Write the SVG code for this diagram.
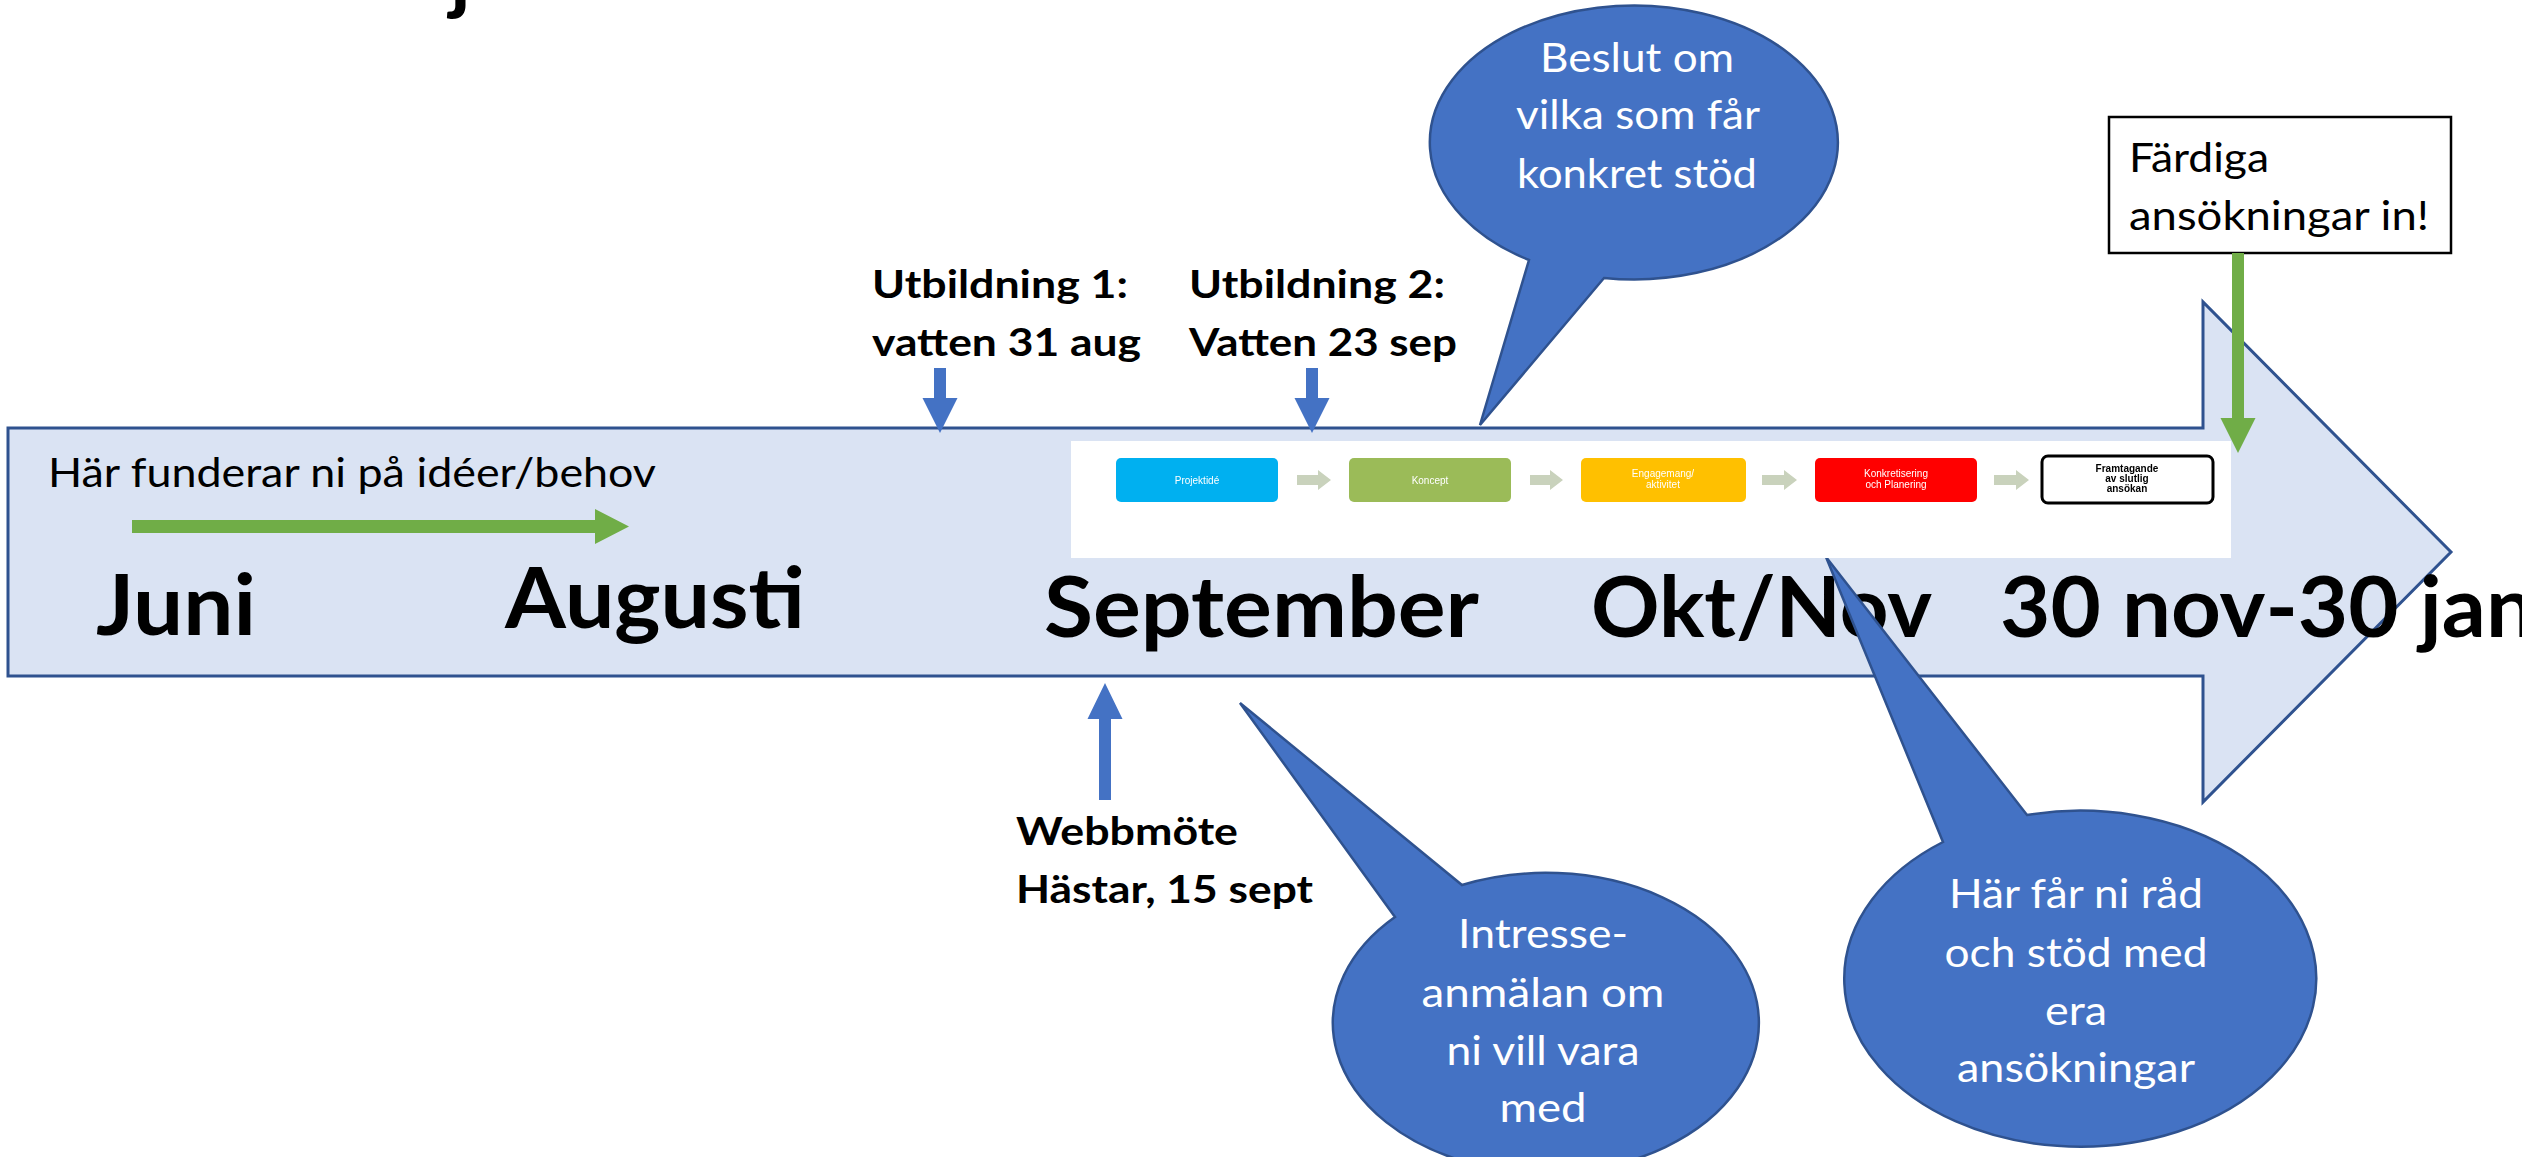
<svg xmlns="http://www.w3.org/2000/svg" width="2522" height="1157" viewBox="0 0 2522 1157">
<defs>
<style>
.bg{fill:#ffffff}
.big{fill:#DAE3F3;stroke:#2F528F;stroke-width:3;stroke-linejoin:miter}
.blue{fill:#4472C4}
.green{fill:#70AD47}
.bubble{fill:#4472C4;stroke:#2F528F;stroke-width:2.5}
.t{font-family:Lato,"Open Sans","Liberation Sans",sans-serif;fill:#000}
.reg{font-size:40px;font-weight:400}
.lbl{font-size:39px;font-weight:700}
.month{font-size:85px;font-weight:700}
.w{fill:#ffffff}
.tiny{font-family:"Liberation Sans",Arial,sans-serif;font-size:10px;fill:#ffffff}
.pa{fill:#C9D2BC}
</style>
<filter id="soft" x="-5%" y="-20%" width="110%" height="140%"><feGaussianBlur stdDeviation="0.7"/></filter>
</defs>
<rect class="bg" x="0" y="0" width="2522" height="1157"/>

<g id="title-fragment"><text class="t" x="450" y="4" font-size="82" font-weight="700">j</text></g>

<g id="timeline-arrow">
<path class="big" d="M8,428 L2203,428 L2203,302 L2451,552 L2203,802 L2203,676 L8,676 Z"/>
</g>

<g id="months">
<text class="t month" x="96" y="635" textLength="160" lengthAdjust="spacingAndGlyphs">Juni</text>
<text class="t month" x="505" y="628" textLength="300" lengthAdjust="spacingAndGlyphs">Augusti</text>
<text class="t month" x="1044" y="637" textLength="435" lengthAdjust="spacingAndGlyphs">September</text>
<text class="t month" x="1591" y="637" textLength="341" lengthAdjust="spacingAndGlyphs">Okt/Nov</text>
<text class="t month" x="2000" y="637" textLength="535" lengthAdjust="spacingAndGlyphs">30 nov-30 jan</text>
</g>

<g id="ideas-note">
<text class="t reg" x="48" y="487" textLength="608" lengthAdjust="spacingAndGlyphs">Här funderar ni på idéer/behov</text>
</g>

<g id="utbildning1">
<text class="t lbl" x="872" y="298" textLength="256" lengthAdjust="spacingAndGlyphs">Utbildning 1:</text>
<text class="t lbl" x="872" y="356" textLength="269" lengthAdjust="spacingAndGlyphs">vatten 31 aug</text>
</g>
<g id="utbildning2">
<text class="t lbl" x="1189" y="298" textLength="256" lengthAdjust="spacingAndGlyphs">Utbildning 2:</text>
<text class="t lbl" x="1189" y="356" textLength="268" lengthAdjust="spacingAndGlyphs">Vatten 23 sep</text>
</g>
<g id="webbmote">
<text class="t lbl" x="1016" y="845" textLength="222" lengthAdjust="spacingAndGlyphs">Webbmöte</text>
<text class="t lbl" x="1016" y="903" textLength="297" lengthAdjust="spacingAndGlyphs">Hästar, 15 sept</text>
</g>

<g id="bubble-beslut">
<path class="bubble" d="M1529,260 L1480,425 L1604,278 A204,137 0 1,0 1529,260 Z"/>
<text class="t reg w" x="1637" y="72" text-anchor="middle" textLength="194" lengthAdjust="spacingAndGlyphs">Beslut om</text>
<text class="t reg w" x="1638" y="129" text-anchor="middle" textLength="244" lengthAdjust="spacingAndGlyphs">vilka som får</text>
<text class="t reg w" x="1637" y="188" text-anchor="middle" textLength="240" lengthAdjust="spacingAndGlyphs">konkret stöd</text>
</g>

<g id="bubble-intresse">
<path class="bubble" d="M1395,917 L1240,703 L1462,885 A213,150 0 1,1 1395,917 Z"/>
<text class="t reg w" x="1543" y="948" text-anchor="middle" textLength="170" lengthAdjust="spacingAndGlyphs">Intresse-</text>
<text class="t reg w" x="1543" y="1007" text-anchor="middle" textLength="243" lengthAdjust="spacingAndGlyphs">anmälan om</text>
<text class="t reg w" x="1543" y="1065" text-anchor="middle" textLength="193" lengthAdjust="spacingAndGlyphs">ni vill vara</text>
<text class="t reg w" x="1543" y="1122" text-anchor="middle" textLength="87" lengthAdjust="spacingAndGlyphs">med</text>
</g>

<g id="bubble-rad">
<path class="bubble" d="M1943,842 L1826,557 L2027,815 A236,168 0 1,1 1943,842 Z"/>
<text class="t reg w" x="2076" y="908" text-anchor="middle" textLength="254" lengthAdjust="spacingAndGlyphs">Här får ni råd</text>
<text class="t reg w" x="2076" y="967" text-anchor="middle" textLength="263" lengthAdjust="spacingAndGlyphs">och stöd med</text>
<text class="t reg w" x="2076" y="1025" text-anchor="middle" textLength="62" lengthAdjust="spacingAndGlyphs">era</text>
<text class="t reg w" x="2076" y="1082" text-anchor="middle" textLength="238" lengthAdjust="spacingAndGlyphs">ansökningar</text>
</g>

<g id="process-strip">
<rect x="1071" y="441" width="1160" height="117" fill="#ffffff"/>
<g filter="url(#soft)">
<rect x="1116" y="458" width="162" height="44" rx="5" fill="#00B0F0"/>
<text class="tiny" x="1197" y="484" text-anchor="middle">Projektidé</text>
<polygon class="pa" points="1297,475 1318,475 1318,470 1331,480 1318,490 1318,485 1297,485"/>
<rect x="1349" y="458" width="162" height="44" rx="5" fill="#9BBB59"/>
<text class="tiny" x="1430" y="484" text-anchor="middle">Koncept</text>
<polygon class="pa" points="1530,475 1550,475 1550,470 1563,480 1550,490 1550,485 1530,485"/>
<rect x="1581" y="458" width="165" height="44" rx="5" fill="#FFC000"/>
<text class="tiny" x="1663" y="477" text-anchor="middle">Engagemang/</text>
<text class="tiny" x="1663" y="488" text-anchor="middle" font-size="8">aktivitet</text>
<polygon class="pa" points="1762,475 1784,475 1784,470 1797,480 1784,490 1784,485 1762,485"/>
<rect x="1815" y="458" width="162" height="44" rx="5" fill="#FF0000"/>
<text class="tiny" x="1896" y="477" text-anchor="middle">Konkretisering</text>
<text class="tiny" x="1896" y="488" text-anchor="middle" font-size="8">och Planering</text>
<polygon class="pa" points="1994,475 2016,475 2016,470 2029,480 2016,490 2016,485 1994,485"/>
<rect x="2042" y="456" width="171" height="47" rx="6" fill="#ffffff" stroke="#000" stroke-width="3"/>
<text class="tiny" x="2127" y="472" text-anchor="middle" fill="#000" style="fill:#000;font-weight:700" font-size="9">Framtagande</text>
<text class="tiny" x="2127" y="482" text-anchor="middle" style="fill:#000;font-weight:700" font-size="9">av slutlig</text>
<text class="tiny" x="2127" y="492" text-anchor="middle" style="fill:#000;font-weight:700" font-size="9">ansökan</text>
</g>
</g>

<g id="fardiga">
<rect x="2109" y="117" width="342" height="136" fill="#ffffff" stroke="#000" stroke-width="2.5"/>
<text class="t reg" x="2129" y="172" textLength="140" lengthAdjust="spacingAndGlyphs">Färdiga</text>
<text class="t reg" x="2129" y="230" textLength="300" lengthAdjust="spacingAndGlyphs">ansökningar in!</text>
</g>

<g id="connectors">
<polygon class="blue" points="934,368 946,368 946,398 957.5,398 940,433 922.5,398 934,398"/>
<polygon class="blue" points="1306,368 1318,368 1318,398 1329.5,398 1312,433 1294.5,398 1306,398"/>
<polygon class="blue" points="1105,683 1122.5,719 1111,719 1111,800 1099,800 1099,719 1087.5,719"/>
<polygon class="green" points="2232,253 2244,253 2244,418 2255.5,418 2238,453 2220.5,418 2232,418"/>
<polygon class="green" points="132,520 595,520 595,509 629,526.5 595,544 595,533 132,533"/>
</g>
</svg>
